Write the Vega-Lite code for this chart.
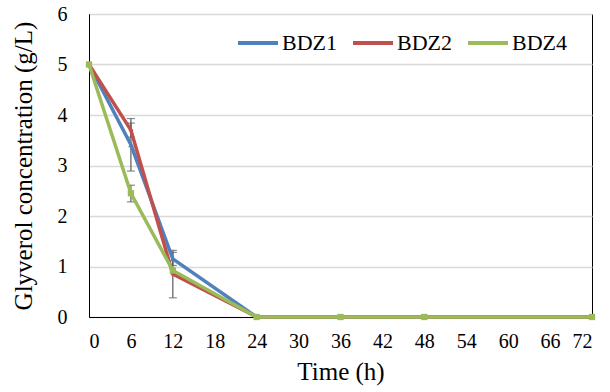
{
  "$schema": "https://vega.github.io/schema/vega-lite/v6.json",
  "width": 503,
  "height": 303,
  "autosize": {"type": "none"},
  "padding": {"left": 89, "top": 14, "right": 18, "bottom": 75},
  "background": "white",
  "config": {
    "view": {"stroke": "black", "strokeWidth": 1},
    "font": "'Times New Roman', 'Liberation Serif', serif"
  },
  "data": {
    "values": [
      {"time": 0, "series": "BDZ1", "value": 5.0, "lo": null, "hi": null},
      {"time": 6, "series": "BDZ1", "value": 3.41, "lo": 2.89, "hi": 3.93},
      {"time": 12, "series": "BDZ1", "value": 1.15, "lo": 1.02, "hi": 1.28},
      {"time": 24, "series": "BDZ1", "value": 0, "lo": null, "hi": null},
      {"time": 36, "series": "BDZ1", "value": 0, "lo": null, "hi": null},
      {"time": 48, "series": "BDZ1", "value": 0, "lo": null, "hi": null},
      {"time": 72, "series": "BDZ1", "value": 0, "lo": null, "hi": null},
      {"time": 0, "series": "BDZ2", "value": 5.0, "lo": null, "hi": null},
      {"time": 6, "series": "BDZ2", "value": 3.7, "lo": 3.56, "hi": 3.84},
      {"time": 12, "series": "BDZ2", "value": 0.85, "lo": 0.38, "hi": 1.32},
      {"time": 24, "series": "BDZ2", "value": 0, "lo": null, "hi": null},
      {"time": 36, "series": "BDZ2", "value": 0, "lo": null, "hi": null},
      {"time": 48, "series": "BDZ2", "value": 0, "lo": null, "hi": null},
      {"time": 72, "series": "BDZ2", "value": 0, "lo": null, "hi": null},
      {"time": 0, "series": "BDZ4", "value": 5.0, "lo": null, "hi": null},
      {"time": 6, "series": "BDZ4", "value": 2.45, "lo": 2.28, "hi": 2.61},
      {"time": 12, "series": "BDZ4", "value": 0.92, "lo": null, "hi": null},
      {"time": 24, "series": "BDZ4", "value": 0, "lo": null, "hi": null},
      {"time": 36, "series": "BDZ4", "value": 0, "lo": null, "hi": null},
      {"time": 48, "series": "BDZ4", "value": 0, "lo": null, "hi": null},
      {"time": 72, "series": "BDZ4", "value": 0, "lo": null, "hi": null}
    ]
  },
  "encoding": {
    "x": {"field": "time", "type": "quantitative", "scale": {"domain": [0, 72], "nice": false},
      "axis": {"values": [0, 6, 12, 18, 24, 30, 36, 42, 48, 54, 60, 66, 72], "grid": false, "title": "Time (h)",
        "labelPadding": 14, "titlePadding": 8, "ticks": false, "domainColor": "black",
        "labelFont": "'Times New Roman', 'Liberation Serif', serif", "titleFont": "'Times New Roman', 'Liberation Serif', serif", "labelFontSize": 20, "titleFontSize": 25,
        "titleFontWeight": "normal", "labelColor": "black", "titleColor": "black"}},
    "y": {"field": "value", "type": "quantitative", "scale": {"domain": [0, 6], "nice": false},
      "axis": {"values": [0, 1, 2, 3, 4, 5, 6], "grid": true, "gridColor": "#d9d9d9", "gridWidth": 1.5,
        "title": "Glyverol concentration (g/L)", "labelPadding": 22, "titlePadding": 21, "ticks": false, "domainColor": "black",
        "labelFont": "'Times New Roman', 'Liberation Serif', serif", "titleFont": "'Times New Roman', 'Liberation Serif', serif", "labelFontSize": 20, "titleFontSize": 25,
        "titleFontWeight": "normal", "labelColor": "black", "titleColor": "black"}}
  },
  "layer": [
    {
      "transform": [{"filter": "datum.lo != null"}],
      "mark": {"type": "rule", "color": "#595959", "strokeWidth": 1.2},
      "encoding": {"y": {"field": "lo", "type": "quantitative"}, "y2": {"field": "hi"}}
    },
    {
      "transform": [{"filter": "datum.lo != null"}],
      "mark": {"type": "tick", "color": "#595959", "thickness": 1.2, "size": 8, "orient": "horizontal"},
      "encoding": {"y": {"field": "lo", "type": "quantitative"}}
    },
    {
      "transform": [{"filter": "datum.lo != null"}],
      "mark": {"type": "tick", "color": "#595959", "thickness": 1.2, "size": 8, "orient": "horizontal"},
      "encoding": {"y": {"field": "hi", "type": "quantitative"}}
    },
    {
      "mark": {"type": "line", "strokeWidth": 3.5},
      "encoding": {
        "color": {"field": "series", "type": "nominal",
          "scale": {"domain": ["BDZ1", "BDZ2", "BDZ4"], "range": ["#4F81BD", "#C0504D", "#9BBB59"]},
          "legend": {"title": null, "orient": "none", "legendX": 147, "legendY": 7, "direction": "horizontal",
            "symbolType": "stroke", "symbolSize": 1600, "symbolStrokeWidth": 4, "labelFont": "'Times New Roman', 'Liberation Serif', serif",
            "labelFontSize": 22, "labelColor": "black", "columnPadding": 8, "labelOffset": 2}}
      }
    },
    {
      "transform": [{"filter": "datum.series == 'BDZ1'"}],
      "mark": {"type": "point", "filled": true, "opacity": 1, "size": 30, "shape": "triangle-up", "color": "#4F81BD"}
    },
    {
      "transform": [{"filter": "datum.series == 'BDZ2'"}],
      "mark": {"type": "point", "filled": true, "opacity": 1, "size": 25, "shape": "diamond", "color": "#C0504D"}
    },
    {
      "transform": [{"filter": "datum.series == 'BDZ4'"}],
      "mark": {"type": "point", "filled": true, "opacity": 1, "size": 40, "shape": "square", "color": "#9BBB59"}
    }
  ]
}
